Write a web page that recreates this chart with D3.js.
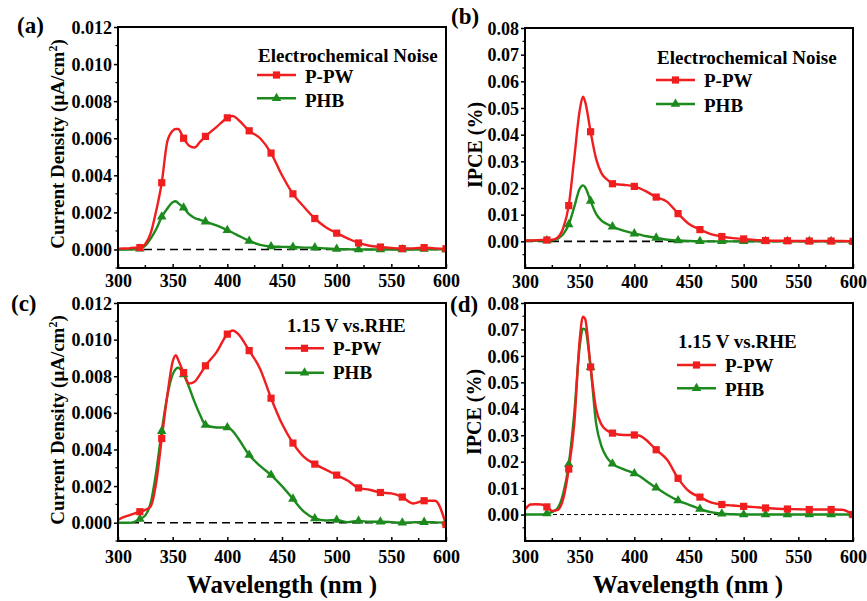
<!DOCTYPE html>
<html>
<head>
<meta charset="utf-8">
<script src="https://cdn.jsdelivr.net/npm/d3@7/dist/d3.min.js"></script>
<style>
  html, body { margin: 0; padding: 0; background: #fff; }
  svg { display: block; }
  text { font-family: "Liberation Serif", "Times New Roman", serif; font-weight: bold; fill: #000; }
</style>
</head>
<body>
<svg id="chart" width="867" height="601" font-family="Liberation Serif, Times New Roman, serif" font-weight="bold"></svg>
<script>
// Sampling wavelengths (nm) shared by every spectrum
const wavelengths = [300,305,310,315,320,325,330,335,340,345,350,353,355,360,365,370,375,380,390,400,
                     405,410,420,430,440,450,460,470,480,490,500,510,520,530,540,550,560,570,580,590,600];
// Wavelengths that carry a symbol
const markerWavelengths = [320,340,360,380,400,420,440,460,480,500,520,540,560,580,600];

// (a) Electrochemical noise, current density (µA/cm²)
const ppwNoiseCurrent = [0.00004,0.00005,0.00006,0.0001,0.0001,0.0003,0.0009,0.0021,0.0036,0.0058,0.0064,0.0065,0.0065,0.0060,0.0056,0.0055,0.0058,0.0061,0.0066,0.0071,
                         0.0072,0.0070,0.0064,0.0060,0.0052,0.0040,0.0030,0.0023,0.00167,0.0012,0.00088,0.0006,0.00035,0.0002,0.00013,0.00008,0.00005,0.00006,0.0001,0.00006,0.00004];
const phbNoiseCurrent = [0,0,0,0.00002,0.00004,0.0002,0.0006,0.0011,0.00176,0.0022,0.00255,0.0026,0.0025,0.00225,0.0019,0.0017,0.0016,0.0015,0.0013,0.00104,
                         0.0009,0.00075,0.00046,0.00025,0.00016,0.00014,0.00013,0.0001,0.0001,0.00005,0.00002,0.00001,0,0,0,0,0,0,0.00002,0.00001,0];

// (b) Electrochemical noise, IPCE (%)
const ppwNoiseIPCE = [0.0003,0.0003,0.0004,0.0005,0.0005,0.0006,0.0015,0.005,0.0134,0.031,0.049,0.0542,0.0524,0.0411,0.031,0.0255,0.0232,0.0216,0.0212,0.0206,
                      0.0199,0.0189,0.0166,0.0148,0.0104,0.0065,0.0044,0.0027,0.0018,0.0012,0.0009,0.0005,0.0003,0.0002,0.0002,0.0001,0.0001,0.0001,0.0001,0.0001,0];
const phbNoiseIPCE = [0.0002,0.0002,0.0002,0.0003,0.0003,0.0004,0.001,0.0027,0.0063,0.0128,0.0197,0.021,0.0203,0.0151,0.0103,0.0078,0.0065,0.0055,0.004,0.0029,
                      0.0025,0.002,0.0013,0.0006,0.0003,0.0001,0,0,0,0,0,0,0,0,0,0,0,0,0,0,0];

// (c) 1.15 V vs. RHE, current density (µA/cm²)
const ppwBiasCurrent = [0.00015,0.0003,0.0004,0.0005,0.0006,0.0007,0.0009,0.0022,0.0046,0.0069,0.0088,0.00915,0.0089,0.0082,0.0076,0.0077,0.0081,0.00857,0.0093,0.0103,
                        0.0105,0.0103,0.0094,0.0084,0.0068,0.0054,0.00435,0.0036,0.0032,0.0029,0.0026,0.0023,0.0019,0.0018,0.00165,0.0016,0.0014,0.00105,0.0012,0.0012,-0.0001];
const phbBiasCurrent = [0,0,0,0.00005,0.0002,0.0004,0.0011,0.0028,0.0050,0.0069,0.0081,0.0084,0.00846,0.0081,0.0074,0.0066,0.0059,0.00534,0.0052,0.0052,
                        0.005,0.0046,0.0037,0.0031,0.0026,0.002,0.0013,0.0006,0.00023,0.00012,0.00015,0.00003,0.0001,0.00005,0.00005,0.00003,0,0.00002,0.00003,0.00002,0];

// (d) 1.15 V vs. RHE, IPCE (%)
const ppwBiasIPCE = [0.0019,0.0038,0.0039,0.0038,0.0029,0.0014,0.0018,0.006,0.0172,0.034,0.066,0.0748,0.074,0.0558,0.040,0.034,0.0318,0.0308,0.0301,0.0301,
                     0.0298,0.0285,0.0245,0.0207,0.0137,0.0088,0.0066,0.0046,0.0038,0.0034,0.0031,0.0028,0.0025,0.0022,0.0021,0.002,0.0019,0.0019,0.0019,0.0018,0];
const phbBiasIPCE = [0,0,0,0,0.0004,0.001,0.0025,0.008,0.019,0.038,0.0635,0.0703,0.070,0.0557,0.0346,0.0258,0.0215,0.0192,0.0172,0.0155,
                     0.0145,0.013,0.0101,0.0075,0.0053,0.0037,0.0021,0.0009,0.0003,0.0001,0,0,0,0,0,0,0,0,0,0,0];

// Axis ticks and labels
const xTicks = [300,350,400,450,500,550,600];
const currentTicks = [0,0.002,0.004,0.006,0.008,0.010,0.012];
const ipceTicks = [0,0.01,0.02,0.03,0.04,0.05,0.06,0.07,0.08];
const seriesNames = ["P-PW", "PHB"];
const conditionNames = ["Electrochemical Noise", "1.15 V vs.RHE"];
const panelLetters = ["(a)", "(b)", "(c)", "(d)"];

const RED = "#f01e1e", GREEN = "#1d8a1d";
const FONT = "'Liberation Serif', 'Times New Roman', serif";
const svg = d3.select("#chart");

const panels = [
  { letter: panelLetters[0], x0: 118, x1: 446, y0: 27, y1: 268, kind: "cd",
    series: [ppwNoiseCurrent, phbNoiseCurrent], cond: conditionNames[0],
    letterPos: [17, 33], tickBase: 286.5, titleX: 64, titleY: 144,
    legend: { tx: 258, ty: 61.5, lx: 257, ly: [75, 98.3], lb: [83, 106.5] }, dash: "8,5", dashW: 1.6 },
  { letter: panelLetters[1], x0: 525, x1: 853, y0: 28, y1: 268, kind: "ipce",
    series: [ppwNoiseIPCE, phbNoiseIPCE], cond: conditionNames[0],
    letterPos: [451, 24], tickBase: 288, titleX: 482, titleY: 145,
    legend: { tx: 657, ty: 64, lx: 656, ly: [80, 104], lb: [87, 111.5] }, dash: "8,5", dashW: 1.6 },
  { letter: panelLetters[2], x0: 118, x1: 446, y0: 303, y1: 541, kind: "cd",
    series: [ppwBiasCurrent, phbBiasCurrent], cond: conditionNames[1],
    letterPos: [11, 311], tickBase: 562.5, titleX: 64, titleY: 420,
    legend: { tx: 287, ty: 332, lx: 285, ly: [348.3, 372.7], lb: [355, 379] }, dash: "8,5", dashW: 1.6 },
  { letter: panelLetters[3], x0: 525, x1: 853, y0: 303, y1: 541, kind: "ipce",
    series: [ppwBiasIPCE, phbBiasIPCE], cond: conditionNames[1],
    letterPos: [450, 312], tickBase: 563, titleX: 481, titleY: 412,
    legend: { tx: 678, ty: 348.3, lx: 677, ly: [365, 388.3], lb: [371.5, 395.5] }, dash: "4,3", dashW: 1 }
];

const symbolPath = [
  d3.symbol().type(d3.symbolSquare).size(52)(),
  d3.symbol().type(d3.symbolTriangle).size(40)()
];
const colors = [RED, GREEN];

panels.forEach((p, i) => {
  const x = d3.scaleLinear().domain([300, 600]).range([p.x0, p.x1]);
  const y = p.kind === "cd"
    ? d3.scaleLinear().domain([-0.001, 0.012]).range([p.y1, p.y0])
    : d3.scaleLinear().domain([-0.01, 0.08]).range([p.y1, p.y0]);
  const yTicks = p.kind === "cd" ? currentTicks : ipceTicks;
  const yFmt = p.kind === "cd" ? d3.format(".3f") : d3.format(".2f");
  const g = svg.append("g");

  const clipId = "clip" + i;
  svg.append("clipPath").attr("id", clipId).append("rect")
    .attr("x", p.x0).attr("y", p.y0).attr("width", p.x1 - p.x0).attr("height", p.y1 - p.y0);

  // zero reference line
  g.append("line")
    .attr("x1", p.x0).attr("x2", p.x1).attr("y1", y(0)).attr("y2", y(0))
    .attr("stroke", "#000").attr("stroke-width", p.dashW).attr("stroke-dasharray", p.dash);

  // spectra
  const plot = g.append("g").attr("clip-path", `url(#${clipId})`);
  const line = d3.line().x((d, k) => x(wavelengths[k])).y(d => y(d)).curve(d3.curveMonotoneX);
  // green first so red sits on top
  [1, 0].forEach(s => {
    plot.append("path").datum(p.series[s])
      .attr("fill", "none").attr("stroke", colors[s]).attr("stroke-width", 2.4)
      .attr("stroke-linejoin", "round").attr("d", line);
  });
  [1, 0].forEach(s => {
    const pts = wavelengths.map((w, k) => [w, p.series[s][k]]).filter(d => markerWavelengths.includes(d[0]));
    plot.selectAll(null).data(pts).enter().append("path")
      .attr("d", symbolPath[s])
      .attr("transform", d => `translate(${x(d[0])},${y(d[1])})`)
      .attr("fill", colors[s]);
  });

  // frame
  g.append("rect").attr("x", p.x0).attr("y", p.y0)
    .attr("width", p.x1 - p.x0).attr("height", p.y1 - p.y0)
    .attr("fill", "none").attr("stroke", "#000").attr("stroke-width", 2);

  // x axis: ticks inward
  const xAxis = d3.axisBottom(x).tickValues(xTicks).tickSize(-4).tickFormat(d3.format("d")).tickPadding(0);
  const xg = g.append("g").attr("transform", `translate(0,${p.y1})`).call(xAxis);
  xg.attr("font-family", null).attr("font-size", null);
  xg.select(".domain").remove();
  xg.selectAll(".tick line").attr("stroke", "#000").attr("stroke-width", 1.5);
  xg.selectAll(".tick text").attr("y", p.tickBase - p.y1).attr("dy", 0)
    .style("font-size", "18px").style("font-family", FONT).style("font-weight", "bold");
  const xMinor = d3.range(325, 600, 50);
  g.selectAll(null).data(xMinor).enter().append("line")
    .attr("x1", d => x(d)).attr("x2", d => x(d)).attr("y1", p.y1).attr("y2", p.y1 - 3)
    .attr("stroke", "#000").attr("stroke-width", 1.5);

  // y axis: ticks outward
  const yAxis = d3.axisLeft(y).tickValues(yTicks).tickSize(4).tickPadding(2).tickFormat(yFmt);
  const yg = g.append("g").attr("transform", `translate(${p.x0},0)`).call(yAxis);
  yg.attr("font-family", null).attr("font-size", null);
  yg.select(".domain").remove();
  yg.selectAll(".tick line").attr("stroke", "#000").attr("stroke-width", 1.5);
  yg.selectAll(".tick text").attr("dy", "0.34em")
    .style("font-size", "18px").style("font-family", FONT).style("font-weight", "bold");
  const step = yTicks[1] - yTicks[0];
  const yMinor = yTicks.slice(0, -1).map(t => t + step / 2).concat([yTicks[0] - step / 2]).filter(v => v >= y.domain()[0]);
  g.selectAll(null).data(yMinor).enter().append("line")
    .attr("x1", p.x0).attr("x2", p.x0 - 2.5).attr("y1", d => y(d)).attr("y2", d => y(d))
    .attr("stroke", "#000").attr("stroke-width", 1.2);

  // y title
  const yt = g.append("text")
    .attr("transform", `translate(${p.titleX},${p.titleY}) rotate(-90)`)
    .attr("text-anchor", "middle");
  if (p.kind === "cd") {
    yt.style("font-size", "19px");
    yt.append("tspan").text("Current Density (\u03BCA/cm");
    yt.append("tspan").text("2").style("font-size", "12px").attr("dy", -7);
    yt.append("tspan").text(")").attr("dy", 7);
  } else {
    yt.style("font-size", "20px").text("IPCE (%)");
  }

  // panel letter
  g.append("text").attr("x", p.letterPos[0]).attr("y", p.letterPos[1])
    .style("font-size", "23px").text(p.letter);

  // legend
  const L = p.legend;
  g.append("text").attr("x", L.tx).attr("y", L.ty).style("font-size", "19px").text(p.cond);
  [0, 1].forEach(s => {
    g.append("line").attr("x1", L.lx).attr("x2", L.lx + 39).attr("y1", L.ly[s]).attr("y2", L.ly[s])
      .attr("stroke", colors[s]).attr("stroke-width", 2.4);
    g.append("path").attr("d", symbolPath[s])
      .attr("transform", `translate(${L.lx + 19.5},${L.ly[s]})`).attr("fill", colors[s]);
    g.append("text").attr("x", L.lx + 48).attr("y", L.lb[s]).style("font-size", "19px").text(seriesNames[s]);
  });
});

// shared x titles
[[282, 593], [688, 593]].forEach(([cx, by]) => {
  svg.append("text").attr("x", cx).attr("y", by).attr("text-anchor", "middle")
    .style("font-size", "25px").text("Wavelength (nm )");
});
</script>
</body>
</html>
